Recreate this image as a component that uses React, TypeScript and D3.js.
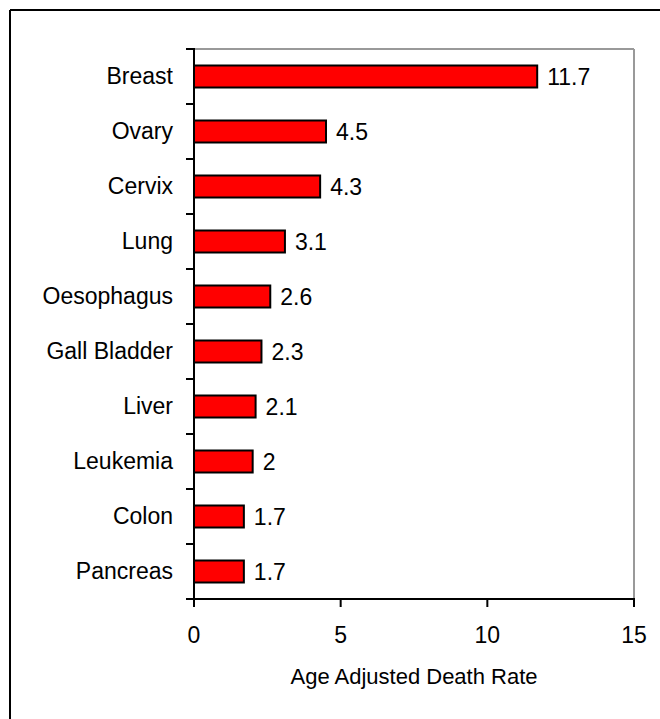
import * as d3 from 'd3';
import React from 'react';

const categories = ['Breast', 'Ovary', 'Cervix', 'Lung', 'Oesophagus', 'Gall Bladder', 'Liver', 'Leukemia', 'Colon', 'Pancreas'];
const rates = [11.7, 4.5, 4.3, 3.1, 2.6, 2.3, 2.1, 2, 1.7, 1.7];
const xTicks = [0, 5, 10, 15];
const xTitle = 'Age Adjusted Death Rate';

const W = 660;
const H = 719;
const left = 194;
const right = 634;
const top = 49;
const bottom = 599;
const font = 'Arial, "Liberation Sans", sans-serif';

const App = () => {
  const x = d3.scaleLinear().domain([0, 15]).range([left, right]);
  const y = d3.scaleBand<string>().domain(categories).range([top, bottom]).paddingInner(0.6).paddingOuter(0.3);
  const edges = d3.range(categories.length + 1).map((i) => top + i * ((bottom - top) / categories.length));
  const mid = (c: string) => (y(c) as number) + y.bandwidth() / 2;

  return (
    <svg width={W} height={H} style={{ position: 'absolute', left: 0, top: 0 }} fontFamily={font}>
      <rect x={0} y={0} width={W} height={H} fill="#fff" />
      {/* outer frame, only top and left are in view */}
      <line x1={10} y1={10} x2={W} y2={10} stroke="#000" strokeWidth={2} />
      <line x1={10} y1={10} x2={10} y2={H} stroke="#000" strokeWidth={2} />

      {/* plot frame */}
      <line x1={left} y1={top} x2={right} y2={top} stroke="#999" strokeWidth={2} />
      <line x1={right} y1={top} x2={right} y2={bottom} stroke="#999" strokeWidth={2} />

      {categories.map((c, i) => (
        <g key={c}>
          <rect
            x={x(0)}
            y={y(c)}
            width={x(rates[i]) - x(0)}
            height={y.bandwidth()}
            fill="#ff0000"
            stroke="#000"
            strokeWidth={2}
          />
          <text x={x(rates[i]) + 10} y={mid(c) + 8} fontSize={23}>
            {rates[i]}
          </text>
          <text x={173} y={mid(c) + 7} fontSize={23} textAnchor="end">
            {c}
          </text>
        </g>
      ))}

      {/* y axis */}
      <line x1={left} y1={top - 1} x2={left} y2={bottom} stroke="#000" strokeWidth={2} />
      {edges.map((e) => (
        <line key={e} x1={left - 8} y1={e} x2={left} y2={e} stroke="#000" strokeWidth={2} />
      ))}

      {/* x axis */}
      <line x1={left - 8} y1={bottom} x2={right + 1} y2={bottom} stroke="#000" strokeWidth={2} />
      {xTicks.map((t) => (
        <g key={t}>
          <line x1={x(t)} y1={bottom} x2={x(t)} y2={bottom + 8} stroke="#000" strokeWidth={2} />
          <text x={x(t)} y={643} fontSize={23} textAnchor="middle">
            {t}
          </text>
        </g>
      ))}
      <text x={(left + right) / 2} y={684} fontSize={22} textAnchor="middle">
        {xTitle}
      </text>
    </svg>
  );
};

export default App;
